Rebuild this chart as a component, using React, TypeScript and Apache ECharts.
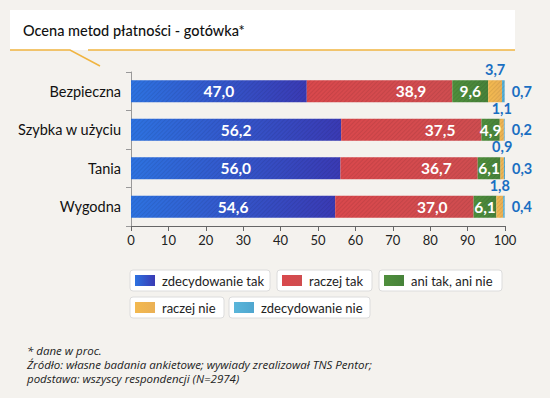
import React, { useEffect, useRef } from "react";
import * as echarts from "echarts";

const categories = ["Bezpieczna", "Szybka w użyciu", "Tania", "Wygodna"];
const seriesNames = ["zdecydowanie tak", "raczej tak", "ani tak, ani nie", "raczej nie", "zdecydowanie nie"];
const zdecydowanieTak = [47.0, 56.2, 56.0, 54.6];
const raczejTak = [38.9, 37.5, 36.7, 37.0];
const aniTakAniNie = [9.6, 4.9, 6.1, 6.1];
const raczejNie = [3.7, 1.1, 0.9, 1.8];
const zdecydowanieNie = [0.7, 0.2, 0.3, 0.4];
const xTicks = [0, 10, 20, 30, 40, 50, 60, 70, 80, 90, 100];
const titleText = "Ocena metod płatności - gotówka*";
const footnotes = [
  "* dane w proc.",
  "Źródło: własne badania ankietowe; wywiady zrealizował TNS Pentor;",
  "podstawa: wszyscy respondencji (N=2974)",
];

const FONT = "Lato, 'Open Sans', sans-serif";

const grad = (a: string, b: string) =>
  new echarts.graphic.LinearGradient(0, 0, 1, 0, [
    { offset: 0, color: a },
    { offset: 1, color: b },
  ]);

const colors = [
  ["#2d72e0", "#3a3ab4"],
  ["#d9484c", "#cf4d50"],
  ["#4f8f3c", "#47823a"],
  ["#f3b94f", "#eab055"],
  ["#5ab6da", "#4fa6cf"],
];

const fmt = (p: any) => Number(p.value).toFixed(1).replace(".", ",");

export default function App() {
  const ref = useRef<HTMLDivElement>(null);
  useEffect(() => {
    if (!ref.current) return;
    const chart = echarts.init(ref.current, null, { renderer: "svg" });
    const values = [zdecydowanieTak, raczejTak, aniTakAniNie, raczejNie, zdecydowanieNie];
    const labelCfgs: any[] = [
      { position: "inside", color: "#fff", fontSize: 15.5, fontWeight: "bold" },
      { position: "insideRight", distance: 26, color: "#fff", fontSize: 15.5, fontWeight: "bold" },
      { position: "inside", color: "#fff", fontSize: 15.5, fontWeight: "bold" },
      { position: "top", distance: 3, color: "#1a6fc2", fontSize: 14.5, fontWeight: "bold" },
      { position: "right", distance: 7, color: "#1a6fc2", fontSize: 14.5, fontWeight: "bold" },
    ];
    const series = values.map((v, i) => ({
      name: seriesNames[i],
      type: "bar",
      stack: "total",
      barWidth: 22,
      data: v,
      itemStyle: {
        color: grad(colors[i][0], colors[i][1]),
        decal: {
          symbol: "rect",
          symbolSize: 1,
          dashArrayX: [1, 0],
          dashArrayY: [1, 2],
          rotation: -Math.PI / 4,
          color: "rgba(0,0,0,0.08)",
        },
      },
      label: { show: true, formatter: fmt, fontFamily: FONT, ...labelCfgs[i] },
    }));

    // legend boxes (layout)
    const legendBoxes = [
      { x: 130, y: 270, w: 140 },
      { x: 277, y: 270, w: 95 },
      { x: 379, y: 270, w: 123 },
      { x: 130, y: 297, w: 94 },
      { x: 229, y: 297, w: 141 },
    ];
    const legendGraphics: any[] = [];
    seriesNames.forEach((name, i) => {
      const b = legendBoxes[i];
      legendGraphics.push({
        type: "rect",
        shape: { x: b.x, y: b.y, width: b.w, height: 21, r: 3 },
        style: { fill: "#ffffff", stroke: "#dcdcdc", lineWidth: 1 },
      });
      legendGraphics.push({
        type: "rect",
        shape: { x: b.x + 5, y: b.y + 5, width: 20, height: 11 },
        style: { fill: grad(colors[i][0], colors[i][1]) },
      });
      legendGraphics.push({
        type: "text",
        x: b.x + 32,
        y: b.y + 11,
        style: { text: name, font: `13px ${FONT}`, fill: "#222", verticalAlign: "middle" },
      });
    });

    chart.setOption({
      animation: false,
      backgroundColor: "#f4f2ee",
      grid: { left: 131, right: 45, top: 72, bottom: 172, containLabel: false },
      xAxis: {
        type: "value",
        min: 0,
        max: 100,
        interval: 10,
        axisLine: { show: true, lineStyle: { color: "#666", width: 1 } },
        axisTick: { show: true, length: 5, lineStyle: { color: "#666" } },
        splitLine: { show: false },
        axisLabel: {
          color: "#222",
          fontSize: 13,
          fontFamily: FONT,
          margin: 7,
          formatter: (v: number) => (xTicks.includes(v) ? String(v) : ""),
        },
      },
      yAxis: {
        type: "category",
        data: categories,
        inverse: true,
        axisLine: { show: true, lineStyle: { color: "#999" } },
        axisTick: { show: true, length: 5, lineStyle: { color: "#999" } },
        axisLabel: { color: "#111", fontSize: 14.5, fontFamily: FONT, margin: 10 },
      },
      series,
      graphic: [
        {
          type: "rect",
          shape: { x: 10, y: 10, width: 505, height: 40 },
          style: { fill: "#ffffff" },
        },
        {
          type: "polyline",
          shape: { points: [[10, 50], [70, 50], [100, 66]] },
          style: { stroke: "#f0b440", lineWidth: 1.5, fill: null },
        },
        {
          type: "line",
          shape: { x1: 88, y1: 50, x2: 515, y2: 50 },
          style: { stroke: "#f0b440", lineWidth: 1.5 },
        },
        {
          type: "text",
          x: 23,
          y: 30,
          style: { text: titleText, font: `500 14.5px ${FONT}`, fill: "#111", verticalAlign: "middle" },
        },
        ...legendGraphics,
        ...footnotes.map((t, i) => ({
          type: "text",
          x: 27,
          y: 350 + i * 14,
          style: { text: t, font: `italic 11.5px 'Open Sans', sans-serif`, fill: "#222", verticalAlign: "middle" },
        })),
      ],
    });
    return () => chart.dispose();
  }, []);
  return <div ref={ref} style={{ width: 550, height: 398, position: "fixed", left: 0, top: 0 }} />;
}
